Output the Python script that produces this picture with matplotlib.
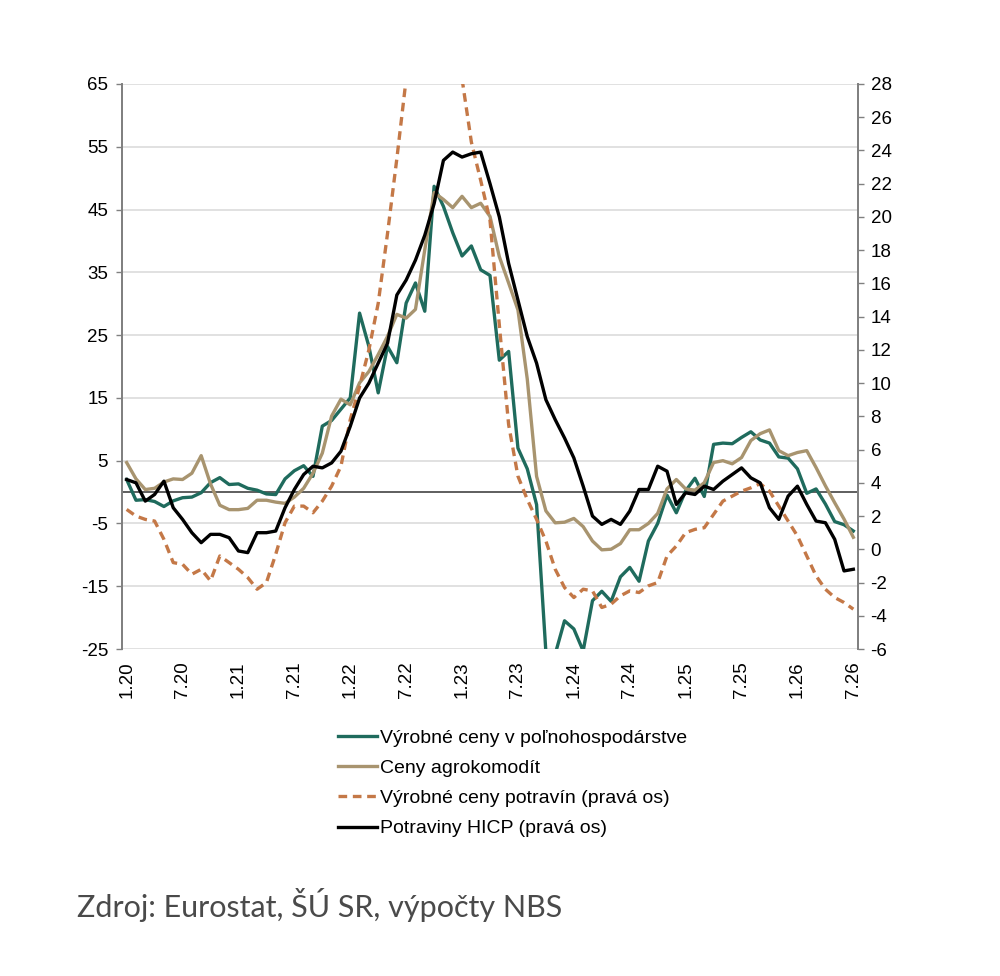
import numpy as np
import matplotlib
matplotlib.use("Agg")
import matplotlib.pyplot as plt

# monthly data 1.20 .. 7.26
vyrobne_polnohosp = [
    2.0, -1.3, -1.2, -1.5, -2.3, -1.4, -0.9, -0.8, -0.1, 1.5,
    2.3, 1.2, 1.3, 0.6, 0.3, -0.3, -0.4, 2.1, 3.4, 4.2,
    2.5, 10.5, 11.4, 13.2, 15.0, 28.5, 23.2, 15.8, 23.2, 20.6,
    30.1, 33.3, 28.8, 48.7, 45.5, 41.3, 37.6, 39.2, 35.4, 34.5,
    21.0, 22.4, 7.0, 3.7, -2.0, -25.5, -25.8, -20.5, -21.8, -25.3,
    -17.3, -15.8, -17.4, -13.5, -12.0, -14.2, -7.8, -5.0, -0.5, -3.3,
    0.2, 2.2, -0.7, 7.6, 7.8, 7.7, 8.7, 9.6, 8.3, 7.8,
    5.6, 5.4, 3.7, -0.2, 0.5, -1.9, -4.7, -5.2, -6.2,
]
ceny_agrokomodit = [
    4.7, 2.1, 0.4, 0.6, 1.6, 2.1, 2.0, 3.0, 5.8, 1.3,
    -2.1, -2.8, -2.8, -2.6, -1.3, -1.3, -1.6, -1.8, -0.8, 0.6,
    3.0, 6.2, 12.1, 14.8, 13.9, 17.4, 19.2, 21.9, 24.8, 28.3,
    27.7, 29.1, 38.6, 47.7, 46.6, 45.3, 47.1, 45.3, 46.0, 43.9,
    37.5, 33.3, 29.0, 18.0, 2.5, -3.0, -4.9, -4.8, -4.2, -5.5,
    -7.8, -9.2, -9.1, -8.2, -6.0, -6.0, -5.0, -3.4, 0.5, 2.0,
    0.5, 0.3, 1.5, 4.7, 5.0, 4.5, 5.5, 8.2, 9.3, 9.9,
    6.6, 5.8, 6.3, 6.6, 3.9, 1.0, -1.7, -4.3, -7.2,
]
vyrobne_potravin = [
    2.4, 2.0, 1.8, 1.7, 0.6, -0.8, -0.9, -1.5, -1.2, -1.9,
    -0.4, -0.8, -1.2, -1.7, -2.4, -2.0, -0.3, 1.6, 2.6, 2.6,
    2.2, 2.9, 3.8, 5.0, 7.8, 9.8, 12.0, 14.8, 19.0, 23.5,
    28.3, 30.5, 32.0, 32.5, 32.0, 30.5, 28.3, 24.5, 22.2, 19.8,
    13.5, 7.5, 4.4, 3.0, 1.8, 0.5, -1.2, -2.3, -2.9, -2.4,
    -2.5, -3.5, -3.3, -2.8, -2.5, -2.6, -2.2, -2.0, -0.4, 0.2,
    1.0, 1.2, 1.3, 2.1, 2.9, 3.2, 3.5, 3.7, 3.95, 3.5,
    2.6, 1.7, 0.8, -0.4, -1.6, -2.4, -2.9, -3.2, -3.6,
]
potraviny_hicp = [
    4.2, 4.0, 2.9, 3.3, 4.1, 2.5, 1.8, 1.0, 0.4, 0.9,
    0.9, 0.7, -0.1, -0.2, 1.0, 1.0, 1.1, 2.5, 3.6, 4.5,
    5.0, 4.9, 5.2, 5.9, 7.4, 9.1, 10.0, 11.2, 12.4, 15.3,
    16.2, 17.4, 18.9, 20.8, 23.4, 23.9, 23.6, 23.8, 23.9, 22.0,
    20.0, 17.2, 15.0, 12.8, 11.2, 9.0, 7.8, 6.7, 5.5, 3.8,
    2.0, 1.5, 1.8, 1.5, 2.3, 3.6, 3.6, 5.0, 4.7, 2.7,
    3.4, 3.3, 3.8, 3.6, 4.1, 4.5, 4.9, 4.3, 4.0, 2.5,
    1.8, 3.2, 3.8, 2.7, 1.7, 1.6, 0.6, -1.3, -1.2,
]
tick_labels = ["1.20", "7.20", "1.21", "7.21", "1.22", "7.22", "1.23", "7.23",
               "1.24", "7.24", "1.25", "7.25", "1.26", "7.26"]
legend_labels = [
    "Výrobné ceny v poľnohospodárstve",
    "Ceny agrokomodít",
    "Výrobné ceny potravín (pravá os)",
    "Potraviny HICP (pravá os)",
]

TEAL = "#1f6b5d"
BEIGE = "#a8946f"
ORANGE = "#c47847"
FONT = "Liberation Sans"

plt.rcParams["font.family"] = FONT
plt.rcParams["axes.unicode_minus"] = False

fig = plt.figure(figsize=(10, 9.76), dpi=100)
ax = fig.add_axes([0.122, 0.335, 0.736, 0.579])
ax2 = ax.twinx()

x = np.arange(len(vyrobne_polnohosp))

l1, = ax.plot(x, vyrobne_polnohosp, color=TEAL, lw=2.4, zorder=3)
l2, = ax.plot(x, ceny_agrokomodit, color=BEIGE, lw=2.4, zorder=3)
l3, = ax2.plot(x, vyrobne_potravin, color=ORANGE, lw=2.4,
               dashes=(2.6, 1.7), zorder=3)
l4, = ax2.plot(x, potraviny_hicp, color="black", lw=2.4, zorder=4)

ax.set_xlim(-0.5, len(x) - 0.5)
ax.set_ylim(-25, 65)
ax.set_yticks(np.arange(-25, 66, 10))
ax2.set_ylim(-6, 28)
ax2.set_yticks(np.arange(-6, 29, 2))

ax.set_xticks(np.arange(0, len(x), 6))
ax.set_xticklabels(tick_labels, rotation=90)
ax.tick_params(axis="x", length=0, pad=9, labelsize=13.5)
ax.tick_params(axis="y", length=4, width=1, color="#808080",
               labelsize=13.5, pad=6)
ax2.tick_params(axis="y", length=4, width=1, color="#808080",
                labelsize=13.5, pad=5)

ax.grid(axis="y", color="#d9d9d9", lw=1.1)
ax.set_axisbelow(True)
ax.axhline(0, color="#333333", lw=1.1, zorder=2)

for a in (ax, ax2):
    a.spines["top"].set_visible(False)
    a.spines["bottom"].set_visible(False)
    a.spines["left"].set_color("#808080")
    a.spines["right"].set_color("#808080")
    a.spines["left"].set_linewidth(1.3)
    a.spines["right"].set_linewidth(1.3)

fig.legend([l1, l2, l3, l4], legend_labels, loc="upper left",
           bbox_to_anchor=(0.338, 0.2525), frameon=False, fontsize=14,
           handlelength=2.0, handletextpad=0.15, labelspacing=0.64,
           borderaxespad=0, borderpad=0)

fig.text(0.077, 1 - 905 / 976, "Zdroj: Eurostat, ŠÚ SR, výpočty NBS",
         fontsize=22, family="Lato", color="#4a4a4a", va="center")

fig.savefig("out.png", dpi=100)
